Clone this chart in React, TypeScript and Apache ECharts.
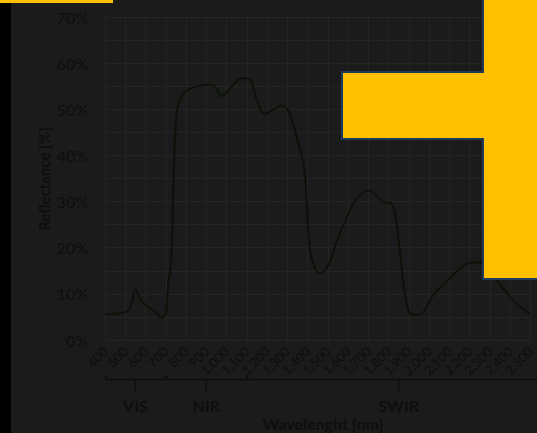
import { useEffect, useRef } from 'react';
import * as echarts from 'echarts';

const wavelengths = [400, 498, 527, 551, 571, 595, 629, 659, 678, 693, 702, 712, 727, 741, 751, 766, 790, 829, 898, 937, 976, 1019, 1078, 1117, 1146, 1190, 1229, 1278, 1312, 1351, 1376, 1390, 1410, 1434, 1459, 1498, 1546, 1595, 1644, 1702, 1741, 1780, 1805, 1829, 1854, 1878, 1902, 1927, 1971, 2020, 2117, 2215, 2250, 2341, 2424, 2500];
const reflectance = [5.6, 6.0, 7.3, 11.0, 9.1, 7.8, 6.7, 5.6, 4.75, 5.2, 6.0, 11.9, 17.3, 38.9, 47.5, 51.8, 53.6, 54.6, 55.3, 55.1, 52.9, 54.6, 56.8, 56.4, 52.5, 49.0, 49.9, 50.8, 49.0, 43.2, 38.9, 34.6, 20.1, 15.8, 14.5, 15.8, 21.6, 26.6, 30.7, 32.4, 31.3, 29.8, 29.8, 28.1, 20.1, 10.8, 6.0, 5.4, 6.0, 9.7, 14.0, 16.8, 16.8, 12.5, 8.2, 5.6];

const regionNames = ['VIS', 'NIR', 'SWIR'];
const regionFrom = [400, 700, 1100];
const regionTo = [700, 1100, 2600];
const regionMid = [550, 900, 1850];

const xAxisTitle = 'Wavelenght [nm]';
const yAxisTitle = 'Reflectance [%]';

const BG = '#1b1b1b';
const GRID = '#242424';
const TXT = '#0e0e0e';
const FONT = 'Lato';

const fmt = (v: number) => {
  const s = String(Math.round(v));
  return s.length > 3 ? s.slice(0, s.length - 3) + ',' + s.slice(s.length - 3) : s;
};

export default function App() {
  const ref = useRef<HTMLDivElement>(null);
  useEffect(() => {
    document.body.style.margin = '0';
    const chart = echarts.init(ref.current!, null, { renderer: 'svg' });
    chart.setOption({
      animation: false,
      backgroundColor: BG,
      grid: { left: 105, top: 17, width: 433, height: 323, containLabel: false },
      xAxis: {
        type: 'value',
        min: 400,
        max: 2500,
        interval: 100,
        axisLine: { show: false },
        axisTick: { show: false },
        splitLine: { show: true, lineStyle: { color: GRID, width: 1 } },
        axisLabel: {
          rotate: 45,
          margin: 9,
          color: TXT,
          fontFamily: FONT,
          fontSize: 13,
          formatter: fmt,
        },
      },
      yAxis: {
        type: 'value',
        min: 0,
        max: 70,
        interval: 5,
        axisLine: { show: false },
        axisTick: { show: false },
        splitLine: { show: true, lineStyle: { color: GRID, width: 1 } },
        axisLabel: {
          margin: 17,
          color: TXT,
          fontFamily: FONT,
          fontSize: 16,
          formatter: (v: number) => (v % 10 === 0 ? v + '%' : ''),
        },
      },
      series: [
        {
          type: 'line',
          data: wavelengths.map((w, i) => [w, reflectance[i]]),
          showSymbol: false,
          smooth: 0.4,
          lineStyle: { color: '#0b1309', width: 2 },
          clip: false,
        },
      ],
    });

    const px = (v: number) => chart.convertToPixel({ gridIndex: 0 }, [v, 0])[0];
    const by = 379.5;
    const graphics: any[] = [];
    const textStyle = (text: string, size: number) => ({
      text,
      fill: TXT,
      fontFamily: FONT,
      fontWeight: 'bold',
      fontSize: size,
      align: 'center',
      verticalAlign: 'middle',
    });
    regionNames.forEach((name, i) => {
      const x0 = px(regionFrom[i]);
      const x1 = px(regionTo[i]);
      const xc = px(regionMid[i]);
      graphics.push({
        type: 'polyline',
        shape: { points: [[x0 + 1, by - 4], [x0 + 1, by], [x1, by], [x1, by - 4]] },
        style: { stroke: TXT, lineWidth: 1.5, fill: null },
        z: 10,
      });
      graphics.push({
        type: 'line',
        shape: { x1: xc, y1: by, x2: xc, y2: by + 12 },
        style: { stroke: TXT, lineWidth: 1.5 },
        z: 10,
      });
      graphics.push({ type: 'text', x: xc, y: 405, style: textStyle(name, 16), z: 10 });
    });
    graphics.push({ type: 'text', x: 323, y: 423, style: textStyle(xAxisTitle, 16), z: 10 });
    graphics.push({
      type: 'text',
      x: 44,
      y: 179,
      rotation: Math.PI / 2,
      style: textStyle(yAxisTitle, 15),
      z: 10,
    });
    graphics.push({
      type: 'rect',
      shape: { x: 0, y: 0, width: 11, height: 433 },
      style: { fill: '#000000' },
      z: 20,
    });
    graphics.push({
      type: 'rect',
      shape: { x: 0, y: 0, width: 113, height: 3 },
      style: { fill: '#FFC000' },
      z: 30,
    });
    graphics.push({
      type: 'polygon',
      shape: {
        points: [[483, -5], [483, 72], [342, 72], [342, 139], [483, 139], [483, 279], [545, 279], [545, -5]],
      },
      style: { fill: '#FFC000', stroke: '#1F3A5C', lineWidth: 2 },
      z: 30,
    });
    chart.setOption({ graphic: graphics });

    return () => chart.dispose();
  }, []);
  return <div ref={ref} style={{ position: 'fixed', left: 0, top: 0, width: 537, height: 433 }} />;
}
